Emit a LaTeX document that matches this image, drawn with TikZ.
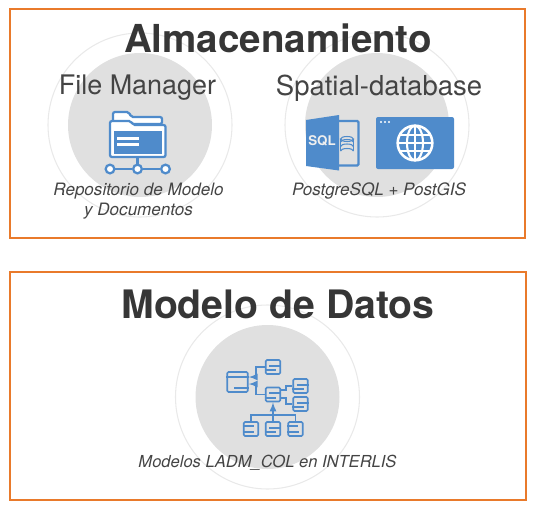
\documentclass[tikz,border=0pt]{standalone}
\usepackage{xcolor}
\usepackage{fontspec}
\setmainfont{TeX Gyre Heros}
\usetikzlibrary{positioning,calc}
\definecolor{framecol}{HTML}{E97A2B}
\definecolor{iconcol}{HTML}{4F8BCB}
\definecolor{discol}{HTML}{E0E0E0}
\definecolor{ringcol}{HTML}{E9E9E9}
\definecolor{textcol}{HTML}{363636}
\definecolor{lighttext}{HTML}{444444}

\begin{document}
\begin{tikzpicture}[x=0.75pt, y=-0.75pt,
    frame/.style={rectangle, draw=framecol, line width=1.5pt, anchor=north west, inner sep=0pt, outer sep=0pt},
    disc/.style={circle, fill=discol, minimum size=108pt, inner sep=0pt},
    ring/.style={circle, draw=ringcol, line width=0.8pt, minimum size=138pt, inner sep=0pt},
    title/.style={text=textcol, font=\fontsize{29.2}{32}\bfseries},
    subtitle/.style={text=lighttext, font=\fontsize{20.6}{24}\selectfont},
    caption/.style={text=lighttext, font=\fontsize{12.8}{15}\itshape},
    iconline/.style={draw=iconcol, line width=1.7pt},
    hub/.style={circle, draw=iconcol, line width=1.7pt, fill=white, minimum size=6.5pt, inner sep=0pt},
    umlbox/.style={rectangle, draw=iconcol, line width=1.3pt, rounded corners=1pt, minimum width=11pt, minimum height=10.5pt, inner sep=0pt},
    umlline/.style={draw=iconcol, line width=1.3pt},
    umlarrow/.style={draw=iconcol, line width=1.3pt, -latex}]
  \useasboundingbox (0,0) rectangle (536,511);

  \node[frame, minimum width=386pt, minimum height=171.5pt] (store) at (10,9) {};
  \node[frame, minimum width=387pt, minimum height=171pt] (model) at (10,272) {};

  \node[ring] (ringF) at (140,125) {};
  \node[disc] (discF) at (140,125) {};
  \node[ring] (ringS) at (377,125) {};
  \node[disc] (discS) at (377,125) {};
  \node[ring] (ringM) at (267.5,397) {};
  \node[disc] (discM) at (267.5,397) {};

  \node[title, font=\fontsize{28.9}{32}\bfseries] (storeT) at (278,38) {Almacenamiento};
  \node[title, font=\fontsize{29.4}{32}\bfseries] (modelT) at (278,304) {Modelo de Datos};
  \node[subtitle, font=\fontsize{20.2}{24}\selectfont] (fileT) at (137.5,88) {File Manager};
  \node[subtitle] (spatialT) at (379,88) {Spatial-database};
  \node[caption, align=center] (fileC) at (138.5,201.5) {Repositorio de Modelo\\y Documentos};
  \node[caption] (spatialC) at (379,191) {PostgreSQL + PostGIS};
  \node[caption, font=\fontsize{12.4}{15}\itshape] (modelC) at (267.5,463) {Modelos LADM\_COL en INTERLIS};

  % folder
  \draw[iconline, fill=white, rounded corners=1.5pt] (113,124) -- (113,112) -- (129,112) -- (131,117) -- (162,117) -- (162,124) -- cycle;
  \draw[iconline, fill=white, rounded corners=1.5pt] (110,157) -- (110,121) -- (131,121) -- (133,125) -- (165.5,125) -- (165.5,157) -- cycle;
  \node[rectangle, fill=iconcol, minimum width=36pt, minimum height=17pt, inner sep=0pt] (foldin) at (138,142.5) {};
  \node[rectangle, fill=white, minimum width=16.5pt, minimum height=2.4pt, inner sep=0pt] (barA) at (128,138.5) {};
  \node[rectangle, fill=white, minimum width=16.5pt, minimum height=2.4pt, inner sep=0pt] (barB) at (128,144.5) {};
  \node[hub] (hubA) at (110,169) {};
  \node[hub] (hubB) at (137.5,169) {};
  \node[hub] (hubC) at (165.5,169) {};
  \draw[iconline] (hubA) -- (hubB);
  \draw[iconline] (hubB) -- (hubC);
  \draw[iconline] (137.5,158) -- (hubB);

  % sql door
  \draw[iconline, rounded corners=1pt] (338,121) -- (358.5,121) -- (358.5,165.5) -- (338,165.5);
  \fill[iconcol] (306,120) -- (339,115) -- (339,170.5) -- (306,166) -- cycle;
  \node[text=discol!50!white, font=\fontsize{10}{12}\bfseries] (sql) at (322,141) {SQL};
  \foreach \y in {142,146.5,151} {
    \draw[draw=iconcol, line width=0.8pt] (340.5,\y) arc[start angle=180, end angle=360, x radius=6.5, y radius=2.5];
  }
  \draw[draw=iconcol, line width=0.8pt] (347,139) ellipse[x radius=6.5, y radius=2.5];
  \draw[draw=iconcol, line width=0.8pt] (340.5,139) -- (340.5,151);
  \draw[draw=iconcol, line width=0.8pt] (353.5,139) -- (353.5,151);

  % web window
  \node[rectangle, fill=iconcol, rounded corners=1.5pt, minimum width=58.5pt, minimum height=39pt, inner sep=0pt] (window) at (415,143) {};
  \foreach \x in {381,385,389} {
    \fill[white] (\x,122) circle[radius=1.2];
  }
  \node[circle, draw=white, line width=1.9pt, minimum size=26pt, inner sep=0pt] (globe) at (415,143) {};
  \draw[white, line width=1.6pt] (415,143) ellipse[x radius=8, y radius=17.3];
  \draw[white, line width=1.6pt] (415,126) -- (415,160);
  \draw[white, line width=1.6pt] (398,143) -- (432,143);
  \draw[white, line width=1.6pt] (400,135) -- (430,135);
  \draw[white, line width=1.6pt] (400,151) -- (430,151);

  % uml boxes
  \node[umlbox, minimum width=15.5pt, minimum height=15pt] (main) at (237.5,382) {};
  \foreach \n/\px/\py in {top/273/367, mid/273/394.5, upr/300.5/386, lwr/300.5/404, botA/251/429, botB/273/429, botC/295.5/429} {
    \node[umlbox] (\n) at (\px,\py) {};
  }
  \draw[umlline] (main.west |- 0,377) -- (main.east |- 0,377);
  \draw[umlline] (234,388) -- (main.east |- 0,388);
  \foreach \n in {top,mid,upr,lwr,botB} {
    \draw[umlline] ([xshift=-3pt, yshift=1pt]\n.center) -- ([yshift=1pt]\n.east);
    \draw[umlline] ([yshift=-2.5pt]\n.west) -- ([xshift=2.5pt, yshift=-2.5pt]\n.center);
  }
  \foreach \n in {botA,botC} {
    \draw[umlline] ([yshift=2pt]\n.west) -- ([xshift=2pt, yshift=2pt]\n.center);
    \draw[umlline] ([yshift=-2.5pt]\n.west) -- ([xshift=2.5pt, yshift=-2.5pt]\n.center);
  }

  % uml connectors
  \coordinate (inA) at (main.east |- 0,377);
  \coordinate (inB) at (main.east |- 0,384);
  \coordinate (busA) at (256,377);
  \coordinate (busB) at (256,384);
  \coordinate (stubA) at (286,390);
  \coordinate (stubB) at (286,398);
  \coordinate (bus) at (273,415);
  \draw[umlarrow] (top.west) -| (busA) -- (inA);
  \draw[umlarrow] (mid.west) -| (busB) -- (inB);
  \draw[umlline] (mid.east |- stubA) -- (stubA) |- (upr.west);
  \draw[umlline] (mid.east |- stubB) -- (stubB) |- (lwr.west);
  \draw[umlarrow] (botB.north) -- (mid.south);
  \draw[umlline] (botA.north) |- (bus) -| (botC.north);
\end{tikzpicture}
\end{document}
